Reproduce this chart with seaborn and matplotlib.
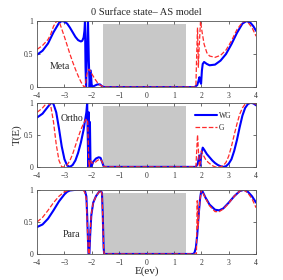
import matplotlib
matplotlib.use("Agg")
import matplotlib.pyplot as plt
import matplotlib.patches as patches
import seaborn as sns

# ---- data (E in eV, T(E)) ----
meta_wg_x = [-4.0, -3.8, -3.6, -3.4, -3.2, -3.1, -3.0, -2.9, -2.8, -2.7, -2.6, -2.5, -2.4,
             -2.35, -2.3, -2.27, -2.25, -2.23, -2.21, -2.18, -2.14, -2.11, -2.08, -2.04, -2.0,
             -1.9, -1.8, -1.7, -1.62, -1.55, 1.75, 1.85, 1.9, 1.93, 1.96, 1.99, 2.02, 2.05,
             2.1, 2.2, 2.3, 2.5, 2.7, 2.9, 3.1, 3.3, 3.5, 3.65, 3.8, 3.9, 4.0]
meta_wg_y = [0.49, 0.55, 0.66, 0.83, 0.97, 1.0, 0.99, 0.96, 0.9, 0.83, 0.76, 0.71, 0.69,
             0.7, 0.75, 0.85, 1.0, 0.3, 0.0, 0.5, 1.0, 0.4, 0.0, 0.25, 0.0,
             0.02, 0.04, 0.04, 0.01, 0.0, 0.0, 0.03, 0.1, 0.15, 0.08, 0.05, 0.25, 0.35,
             0.38, 0.35, 0.33, 0.34, 0.4, 0.5, 0.65, 0.82, 0.96, 1.0, 0.97, 0.92, 0.85]

meta_g_x = [-4.0, -3.8, -3.6, -3.5, -3.4, -3.3, -3.2, -3.1, -3.0, -2.9, -2.8, -2.7, -2.6,
            -2.5, -2.4, -2.3, -2.25, -2.2, -2.15, -2.1, -2.0, -1.9, -1.8, -1.7, -1.6, -1.55,
            1.8, 1.83, 1.86, 1.89, 1.92, 1.97, 2.02, 2.1, 2.2, 2.3, 2.5, 2.7, 2.9, 3.1, 3.3,
            3.5, 3.6, 3.7, 3.85, 4.0]
meta_g_y = [0.57, 0.63, 0.72, 0.8, 0.92, 0.99, 1.0, 0.88, 0.76, 0.63, 0.5, 0.38, 0.27,
            0.17, 0.08, 0.01, 0.0, 0.15, 0.25, 0.27, 0.2, 0.13, 0.07, 0.03, 0.01, 0.0,
            0.0, 0.5, 0.9, 0.3, 0.6, 1.0, 0.85, 0.65, 0.52, 0.47, 0.45, 0.48, 0.56, 0.7, 0.87,
            0.98, 1.0, 0.98, 0.9, 0.77]

ortho_wg_x = [-4.0, -3.8, -3.6, -3.5, -3.45, -3.4, -3.3, -3.2, -3.1, -3.0, -2.9, -2.8, -2.7,
              -2.6, -2.5, -2.4, -2.3, -2.25, -2.2, -2.17, -2.15, -2.13, -2.11, -2.09, -2.07,
              -2.05, -2.03, -2.0, -1.95, -1.85, -1.75, -1.68, -1.62, -1.58, -1.55,
              1.8, 1.87, 1.92, 1.96, 2.0, 2.05, 2.1, 2.2, 2.3, 2.4, 2.5, 2.6, 2.7, 2.8, 2.9,
              3.0, 3.1, 3.2, 3.3, 3.4, 3.5, 3.6, 3.7, 3.8, 3.9, 4.0]
ortho_wg_y = [0.77, 0.83, 0.94, 0.99, 1.0, 0.98, 0.85, 0.6, 0.32, 0.12, 0.02, 0.0, 0.03,
              0.1, 0.22, 0.38, 0.58, 0.72, 0.85, 1.0, 0.5, 0.0, 0.85, 0.2, 0.7,
              0.1, 0.0, 0.02, 0.08, 0.13, 0.15, 0.14, 0.07, 0.02, 0.0,
              0.0, 0.05, 0.18, 0.02, 0.2, 0.3, 0.27, 0.2, 0.15, 0.1, 0.06, 0.03, 0.01, 0.0, 0.01,
              0.05, 0.12, 0.25, 0.42, 0.62, 0.8, 0.92, 0.98, 1.0, 0.99, 0.96]

ortho_g_x = [-4.0, -3.8, -3.7, -3.6, -3.5, -3.4, -3.3, -3.2, -3.1, -3.0, -2.9, -2.8, -2.7,
             -2.6, -2.5, -2.4, -2.3, -2.2, -2.15, -2.12, -2.1, -2.05, -2.0, -1.9, -1.8, -1.7,
             -1.62, -1.58, -1.55, 1.8, 1.83, 1.86, 1.9, 1.93, 1.97, 2.0, 2.05, 2.15, 2.25, 2.4,
             2.5, 2.7, 2.8, 2.9, 3.0, 3.1, 3.2, 3.3, 3.4, 3.5, 3.6, 3.7, 3.8, 3.9, 4.0]
ortho_g_y = [0.85, 0.92, 0.97, 1.0, 0.95, 0.7, 0.35, 0.1, 0.0, 0.0, 0.03, 0.1, 0.2,
             0.33, 0.46, 0.58, 0.68, 0.75, 0.7, 0.2, 0.0, 0.1, 0.06, 0.06, 0.1, 0.12,
             0.08, 0.02, 0.0, 0.0, 0.25, 0.5, 0.2, 0.0, 0.1, 0.25, 0.2, 0.12, 0.07, 0.02,
             0.0, 0.0, 0.02, 0.07, 0.17, 0.32, 0.5, 0.67, 0.82, 0.92, 0.98, 1.0, 1.0, 0.99, 0.98]

para_wg_x = [-4.0, -3.8, -3.6, -3.4, -3.2, -3.0, -2.9, -2.8, -2.6, -2.4, -2.3, -2.25, -2.2,
             -2.17, -2.14, -2.12, -2.09, -2.06, -2.02, -1.95, -1.85, -1.75, -1.68, -1.63, -1.6,
             -1.57, -1.55, 1.7, 1.75, 1.8, 1.85, 1.9, 1.95, 2.0, 2.05, 2.15, 2.3, 2.5, 2.65,
             2.8, 3.0, 3.2, 3.4, 3.55, 3.7, 3.85, 4.0]
para_wg_y = [0.42, 0.46, 0.55, 0.68, 0.82, 0.93, 0.97, 0.99, 1.0, 1.0, 1.0, 0.98, 0.9,
             0.6, 0.2, 0.0, 0.0, 0.3, 0.6, 0.8, 0.9, 0.96, 1.0, 0.95, 0.6,
             0.1, 0.0, 0.0, 0.02, 0.1, 0.3, 0.6, 0.85, 1.0, 0.97, 0.88, 0.77, 0.69, 0.68,
             0.71, 0.8, 0.9, 0.98, 1.0, 0.97, 0.9, 0.8]

para_g_x = [-4.0, -3.8, -3.6, -3.4, -3.2, -3.0, -2.8, -2.6, -2.4, -2.3, -2.25, -2.2, -2.17,
            -2.14, -2.12, -2.09, -2.06, -2.02, -1.95, -1.85, -1.75, -1.68, -1.63, -1.6, -1.57,
            -1.55, 1.75, 1.82, 1.85, 1.87, 1.9, 1.95, 2.0, 2.05, 2.15, 2.3, 2.5, 2.65, 2.8,
            3.0, 3.2, 3.4, 3.55, 3.7, 3.85, 4.0]
para_g_y = [0.5, 0.57, 0.68, 0.8, 0.9, 0.97, 1.0, 1.0, 1.0, 0.99, 0.95, 0.85, 0.5,
            0.15, 0.0, 0.0, 0.35, 0.62, 0.8, 0.9, 0.96, 0.99, 0.94, 0.55, 0.08,
            0.0, 0.0, 0.0, 0.83, 0.4, 0.55, 0.85, 1.0, 0.96, 0.87, 0.75, 0.66, 0.66, 0.7,
            0.79, 0.9, 0.98, 1.0, 0.95, 0.86, 0.72]

panels = [
    ("Meta", meta_wg_x, meta_wg_y, meta_g_x, meta_g_y, (-3.55, 0.28)),
    ("Ortho", ortho_wg_x, ortho_wg_y, ortho_g_x, ortho_g_y, (-3.15, 0.72)),
    ("Para", para_wg_x, para_wg_y, para_g_x, para_g_y, (-3.05, 0.27)),
]
gap_lo, gap_hi, gap_top = -1.6, 1.45, 0.95

sns.set_style("ticks")
plt.rcParams['font.family'] = ['Liberation Serif', 'DejaVu Serif']

fig = plt.figure(figsize=(2.83, 2.80), dpi=100)
boxes = [(0.131, 0.689, 0.774, 0.236),
         (0.131, 0.404, 0.774, 0.229),
         (0.131, 0.093, 0.774, 0.229)]

for i, (name, wx, wy, gx, gy, txt) in enumerate(panels):
    ax = fig.add_axes(boxes[i])
    ax.add_patch(patches.Rectangle((gap_lo, 0), gap_hi - gap_lo, gap_top,
                                   facecolor="#c8c8c8", edgecolor="none", zorder=0))
    sns.lineplot(x=wx, y=wy, ax=ax, color="#0000ff", linewidth=1.5,
                 estimator=None, sort=False, label="WG" if i == 1 else None)
    sns.lineplot(x=gx, y=gy, ax=ax, color="#ff2a2a", linewidth=0.9, linestyle="--",
                 estimator=None, sort=False, label="G" if i == 1 else None)
    ax.set_xlim(-4, 4)
    ax.set_ylim(0, 1)
    ax.set_xticks(range(-4, 5))
    ax.set_xticklabels(["\u22124", "\u22123", "\u22122", "\u22121", "0", "1", "2", "3", "4"])
    ax.set_yticks([0, 0.5, 1])
    ax.set_yticklabels(["0", "0.5", "1"])
    ax.tick_params(direction="in", length=2, width=0.5, labelsize=5.5,
                   top=True, right=True, colors="#333333")
    ax.tick_params(axis="x", pad=3.5)
    ax.tick_params(axis="y", pad=2.5)
    for s in ax.spines.values():
        s.set_linewidth(0.6)
        s.set_color("#555555")
    ax.text(txt[0], txt[1], name, fontsize=7)
    if i == 1:
        ax.set_ylabel("T(E)", fontsize=8, labelpad=2)
        ax.legend(loc="upper right", bbox_to_anchor=(0.92, 0.97), frameon=False,
                  fontsize=5.5, handlelength=2.8, handletextpad=0.3, labelspacing=0.6)
    if i == 0:
        ax.set_title("0 Surface state\u2013 AS model", fontsize=7.5, pad=4)
    if i == 2:
        ax.set_xlabel("E(ev)", fontsize=8, labelpad=0)

fig.savefig("out.png", dpi=100)
